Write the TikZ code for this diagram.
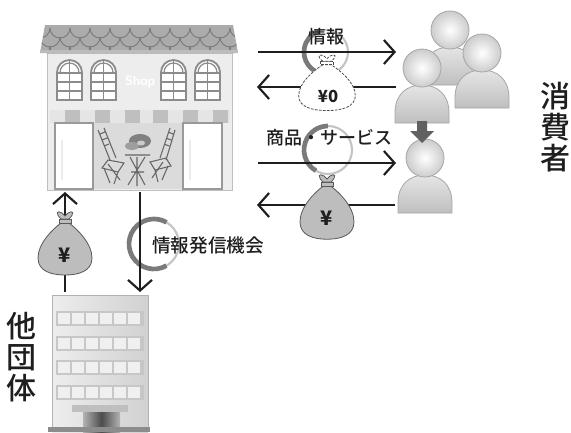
\documentclass[tikz,border=0pt]{standalone}
\usepackage{fontspec}
\newfontfamily\jp{Noto Sans CJK JP Medium}
\newfontfamily\jpbold{Noto Sans CJK JP Black}
\usetikzlibrary{arrows.meta}
\definecolor{ink}{HTML}{1E1E1E}
\definecolor{roofgray}{HTML}{ABABAB}
\definecolor{roofline}{HTML}{7C7C7C}
\definecolor{wall}{HTML}{EDEDED}
\definecolor{frame}{HTML}{8C8C8C}
\definecolor{ringdark}{HTML}{7A7A7A}
\definecolor{ringlight}{HTML}{C4C4C4}
\definecolor{baggray}{HTML}{BDBDBD}
\tikzset{
  flow/.style={draw=ink, line width=1.6pt, -{Straight Barb[length=8pt,width=18pt,line width=1.6pt]}},
  label/.style={font=\jp\fontsize{13.5}{16}\selectfont, text=ink, inner sep=0pt},
  bigword/.style={font=\jp\fontsize{22.5}{23.5}\selectfont, text=ink, align=center, inner sep=0pt},
  yen/.style={font=\jpbold\fontsize{12.5}{14}\selectfont, text=ink, inner sep=0pt},
  winframe/.style={draw=frame, line width=1.4pt, fill=white},
  winbar/.style={draw=frame, line width=0.9pt},
  chair/.style={draw=black!60, line width=0.8pt},
  personbody/.style={top color=black!10, bottom color=black!25, draw=black!35, line width=0.6pt},
  personhead/.style={inner color=white, outer color=black!20, draw=black!35, line width=0.6pt},
  bag/.pic={
    \path[pic actions] (-4,10) .. controls (-12,16) and (-27,30) .. (-27,45)
      .. controls (-27,58) and (-14,62) .. (0,62)
      .. controls (14,62) and (27,58) .. (27,45)
      .. controls (27,30) and (12,16) .. (4,10) -- cycle;
    \path[pic actions] (-6,6) rectangle (6,10);
    \path[pic actions] (-4,6) .. controls (-10,0) and (-8,-3) .. (-3,0) -- (0,3) -- (3,0)
      .. controls (8,-3) and (10,0) .. (4,6) -- cycle;
  },
  person/.pic={
    \path[personbody] (-27,55) -- (-27,45) .. controls (-27,26) and (-15,17) .. (0,17)
      .. controls (15,17) and (27,26) .. (27,45) -- (27,55) -- cycle;
    \path[personhead] (0,0) circle[radius=19];
  },
  archwin/.pic={
    \path[winframe] (0,40) -- (0,12.5) arc[start angle=180,end angle=360,radius=12.5] -- (25,40) -- cycle;
    \draw[winbar] (12.5,0) -- (12.5,40);
    \draw[winbar] (0,13) -- (25,13) (0,22) -- (25,22) (0,31) -- (25,31);
    \draw[winbar] (3,12.5) arc[start angle=180,end angle=360,radius=9.5];
  },
}
\begin{document}
\begin{tikzpicture}[x=0.75pt,y=-0.75pt]
\useasboundingbox (0,0) rectangle (571,432);
\fill[white] (0,0) rectangle (571,432);

% ---------------- shop ----------------
\fill[wall] (47,53) rectangle (232,190);
\draw[black!25, line width=0.6pt] (47,53) rectangle (232,190);
% roof with scalloped tiles
\begin{scope}
  \path[clip] (40,53) -- (45,25) -- (233,25) -- (238,53) -- cycle;
  \fill[roofgray] (38,24) rectangle (240,54);
  \foreach \row/\off in {0/0,1/10,2/0}{
    \foreach \i in {0,...,10}{
      \draw[roofline, line width=0.7pt]
        ({30+\off+20*\i},{28+9*\row}) arc[start angle=180,end angle=0,radius=10];
    }
  }
\end{scope}
\fill[roofgray!80!white] (40,50) rectangle (238,53);
% arched windows
\pic at (57,60) {archwin};
\pic at (91,60) {archwin};
\pic at (161,60) {archwin};
\pic at (195,60) {archwin};
\node[font=\sffamily\bfseries\fontsize{10}{12}\selectfont, text=white] (shopsign) at (140,82) {Shop};
% awning
\fill[black!10] (50,110) rectangle (230,123);
\foreach \x in {65,95,125,153,183,213}{
  \fill[black!25] (\x,110) rectangle ++(15,13);
}
% door panels and open front
\fill[black!14] (93,123) rectangle (183,189);
\path[draw=black!40, fill=white, line width=0.8pt] (55,123) rectangle (93,189);
\path[draw=black!40, fill=white, line width=0.8pt] (183,123) rectangle (222,189);
\draw[black!8, line width=2pt] (62,140) -- (62,180) (190,140) -- (190,180);
% cafe chairs and table
\draw[chair] (98,130) -- (110,160) (104,128) -- (116,158) (100,134) -- (105,132) (102,140) -- (107,138) (104,146) -- (109,144);
\draw[chair] (108,160) -- (124,163) -- (118,172) -- (102,168) -- cycle;
\draw[chair] (104,168) -- (110,183) (118,172) -- (114,184) (108,164) -- (120,180);
\draw[chair] (175,130) -- (166,160) (170,128) -- (160,158) (173,134) -- (168,132) (171,140) -- (166,138) (169,146) -- (164,144);
\draw[chair] (166,158) -- (150,162) -- (155,170) -- (171,166) -- cycle;
\draw[chair] (168,166) -- (162,180) (155,170) -- (158,182) (163,162) -- (152,178);
\draw[chair] (125,155) -- (150,155) (130,157) -- (145,185) (145,157) -- (128,185) (137,157) -- (137,186) (131,172) -- (144,172);
\fill[black!50] (140,141) ellipse[x radius=11, y radius=7];
\fill[black!38] (132,146) ellipse[x radius=7, y radius=4];
\fill[white!80!black] (141,143) ellipse[x radius=4, y radius=2.5];

% ---------------- other organisation building ----------------
\shade[left color=black!7, right color=black!18] (52,295) rectangle (148,432);
\draw[black!30, line width=0.6pt] (52,432) -- (52,295) -- (148,295) -- (148,432);
\foreach \y in {311,336,360,385}{
  \fill[black!22] (56,\y) rectangle (144,\y+15);
  \foreach \c in {0,...,5}{
    \fill[black!6] ({58+14*\c},{\y+2}) rectangle ++(12,11);
  }
}
\fill[black!25] (72,405) rectangle (128,412);
\shade[left color=black!30, right color=black!30, middle color=black!70] (83,412) rectangle (120,432);
\fill[black!45] (48,427) rectangle (150,432);

% ---------------- consumers ----------------
\pic at (450,30) {person};
\pic at (482,53) {person};
\pic at (422,68) {person};
\pic at (425,158) {person};
\fill[black!62] (417,121) -- (427,121) -- (427,131) -- (434,131) -- (422,143) -- (410,131) -- (417,131) -- cycle;

% ---------------- rings ----------------
\draw[ringlight, line width=1.6pt] (326,52) circle[radius=22];
\draw[ringdark, line width=3.5pt] (326,52) ++(100:22) arc[start angle=100,end angle=250,radius=22];
\draw[ringlight, line width=1.6pt] (328,150) circle[radius=24];
\draw[ringdark, line width=3.5pt] (328,150) ++(120:24) arc[start angle=120,end angle=270,radius=24];
\draw[ringlight, line width=1.6pt] (154,244) ++(-60:25) arc[start angle=-60,end angle=60,radius=25];
\draw[ringdark, line width=3.5pt] (154,244) ++(60:25) arc[start angle=60,end angle=300,radius=25];

% ---------------- flows ----------------
\coordinate (shopR1) at (258,52);
\coordinate (custL1) at (396,52);
\coordinate (custL2) at (396,87);
\coordinate (shopR2) at (257,87);
\coordinate (shopR3) at (258,163);
\coordinate (custL3) at (396,163);
\coordinate (custL4) at (395,205);
\coordinate (shopR4) at (257,205);
\coordinate (orgTop) at (65,292);
\coordinate (shopB1) at (65,192);
\coordinate (shopB2) at (140,192);
\coordinate (orgTop2) at (140,292);
\draw[flow] (shopR1) -- (custL1);
\draw[flow] (custL2) -- (shopR2);
\draw[flow] (shopR3) -- (custL3);
\draw[flow] (custL4) -- (shopR4);
\draw[flow] (orgTop) -- (shopB1);
\draw[flow] (shopB2) -- (orgTop2);

% ---------------- money bags ----------------
\pic[draw=black!70, fill=white, dashed, dash pattern=on 2pt off 1pt, line width=0.6pt, xscale=1.05, yscale=0.88] at (327,56) {bag};
\node[yen] (free) at (328,96) {¥0};
\pic[draw=black!65, fill=baggray, line width=0.6pt, xscale=1.0, yscale=1.02] at (327,176) {bag};
\node[yen, font=\jpbold\fontsize{15}{16}\selectfont] (pay) at (327,218) {¥};
\pic[draw=black!65, fill=baggray, line width=0.6pt] at (65,213) {bag};
\node[yen, font=\jpbold\fontsize{15}{16}\selectfont] (fund) at (65,255) {¥};

% ---------------- labels ----------------
\node[label] (info) at (326,37) {情報};
\node[label] (goods) at (329,138) {商品・サービス};
\node[label, font=\jp\fontsize{14}{16}\selectfont] (chance) at (208,245) {情報発信機会};
\node[bigword] (consumer) at (555,127) {消\\費\\者};
\node[bigword] (others) at (22,357) {他\\団\\体};
\end{tikzpicture}
\end{document}
